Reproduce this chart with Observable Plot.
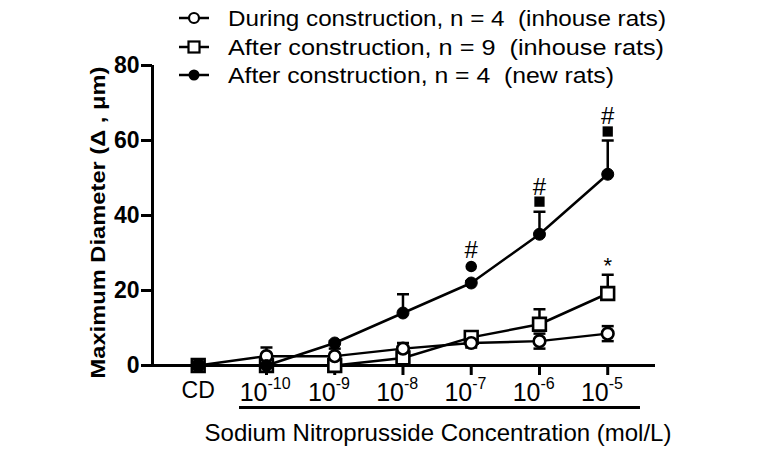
<!DOCTYPE html>
<html><head><meta charset="utf-8">
<script src="https://cdn.jsdelivr.net/npm/d3@7"></script>
<script src="https://cdn.jsdelivr.net/npm/@observablehq/plot@0.6"></script>
<style>
body{margin:0;background:#fff;font-family:"Liberation Sans",Arial,sans-serif;}
#wrap{position:relative;width:763px;height:454px;}
#legend{position:absolute;left:0;top:0;}
</style></head>
<body><div id="wrap"><div id="legend"></div><div id="chart"></div></div>
<script>
// categories (positions 0..6)
const categories = ["CD", "-10", "-9", "-8", "-7", "-6", "-5"];
const tickBase = ["CD", "10", "10", "10", "10", "10", "10"];
const tickExp = ["", "-10", "-9", "-8", "-7", "-6", "-5"];

const seriesNames = [
  "During construction, n = 4  (inhouse rats)",
  "After construction, n = 9  (inhouse rats)",
  "After construction, n = 4  (new rats)"
];
const duringMean = [0, 2.5, 2.5, 4.5, 6, 6.5, 8.5];
const duringErr  = [0, 2.3, 2, 1.5, 1.2, 2, 2];
const afterMean  = [0, 0, 0, 2, 7.5, 11, 19.2];
const afterErr   = [0, 0.5, 1, 2, 1.5, 4, 5];
const newMean    = [0, 0, 6, 14, 22, 35, 51];
const newErr     = [0, 0, 0.5, 5, 0.5, 6, 9];

// significance annotations
const annotIdx = [4, 5, 6];
const hashY = [30.6, 47.6, 66.5];
const sigY = [26.4, 43.7, 62.4];
const sigSymbol = ["circle", "square", "square"];
const starIdx = [6];
const starY = [26.6];

const yTicks = [0, 20, 40, 60, 80];
const yLabel = "Maximum Diameter (\u0394 , \u03bcm)";
const xLabel = "Sodium Nitroprusside Concentration (mol/L)";

const xDom = [-0.67, 6.7];
const mk = (means, errs, up, s) => means.map((m, i) => ({x: i, y: m, lo: up ? m : m - errs[i], hi: m + errs[i], s}));
const d1 = mk(duringMean, duringErr, false, 0);
const d2 = mk(afterMean, afterErr, true, 1);
const d3d = mk(newMean, newErr, true, 2);
const ticks = categories.map((c, i) => ({x: i, base: tickBase[i], exp: tickExp[i]}));
const annots = annotIdx.map((x, i) => ({x, hy: hashY[i], sy: sigY[i], sym: sigSymbol[i]}));
const stars = starIdx.map((x, i) => ({x, y: starY[i]}));

const font = '"Liberation Sans", Arial, sans-serif';

function caps(d, key) {
  return Plot.dot(d.filter(e => e.hi > e.lo && (key === "hi" || e.lo < e.y)), {x: "x", y: key, symbol: {draw(ctx, size) { ctx.moveTo(-6, 0); ctx.lineTo(6, 0); }}, r: 5, stroke: "black", strokeWidth: 2.5});
}
function bars(d) {
  return Plot.ruleX(d.filter(e => e.hi > e.lo), {x: "x", y1: "lo", y2: "hi", stroke: "black", strokeWidth: 2.5});
}

const chart = Plot.plot({
  width: 763, height: 454,
  marginTop: 65, marginBottom: 89, marginLeft: 152, marginRight: 108,
  style: {fontFamily: font, background: "transparent"},
  x: {domain: xDom, axis: null},
  y: {domain: [0, 80], axis: null},
  marks: [
    Plot.axisY({ticks: yTicks, tickSize: 11, tickPadding: 2, strokeWidth: 3, fontSize: 23, fontWeight: "bold", label: null, fill: "black"}),
    Plot.axisX({ticks: [1, 2, 3, 4, 5, 6], tickSize: 10, strokeWidth: 3, tickFormat: () => "", label: null}),
    Plot.ruleX([xDom[0]], {y1: 0, y2: 80, strokeWidth: 3}),
    Plot.ruleY([0], {strokeWidth: 3}),
    Plot.ruleY([0], {x1: 0.605, x2: 6.48, dy: 42, strokeWidth: 3}),
    // tick labels
    Plot.text(ticks.filter(t => !t.exp), {x: "x", frameAnchor: "bottom", lineAnchor: "middle", text: "base", textAnchor: "middle", dy: 25, fontSize: 23, fill: "black"}),
    Plot.text(ticks.filter(t => t.exp), {x: "x", frameAnchor: "bottom", lineAnchor: "middle", text: "base", textAnchor: "end", dx: 1, dy: 27, fontSize: 25, fill: "black"}),
    Plot.text(ticks.filter(t => t.exp), {x: "x", frameAnchor: "bottom", lineAnchor: "middle", text: "exp", textAnchor: "start", dx: 1, dy: 18, fontSize: 16, fill: "black"}),
    Plot.text([xLabel], {frameAnchor: "bottom", lineAnchor: "middle", text: d => d, dy: 68, dx: 34, fontSize: 24, fill: "black"}),
    Plot.text([yLabel], {frameAnchor: "left", lineAnchor: "middle", textAnchor: "middle", text: d => d, rotate: -90, dx: -54, dy: 7, fontSize: 20, fontWeight: "bold", fill: "black", className: "ylab"}),
    // lines
    Plot.line(d1, {x: "x", y: "y", strokeWidth: 2.5, stroke: "black"}),
    Plot.line(d2, {x: "x", y: "y", strokeWidth: 2.5, stroke: "black"}),
    Plot.line(d3d, {x: "x", y: "y", strokeWidth: 2.5, stroke: "black"}),
    // error bars
    bars(d1), caps(d1, "hi"), caps(d1, "lo"),
    bars(d2), caps(d2, "hi"),
    bars(d3d), caps(d3d, "hi"),
    // markers
    Plot.dot(d2, {x: "x", y: "y", symbol: "square", r: 7.2, fill: "white", stroke: "black", strokeWidth: 2.6}),
    Plot.dot(d1, {x: "x", y: "y", symbol: "circle", r: 5.8, fill: "white", stroke: "black", strokeWidth: 2.6}),
    Plot.dot(d3d, {x: "x", y: "y", symbol: "circle", r: 6, fill: "black", stroke: "black", strokeWidth: 1}),
    // annotations
    Plot.text(annots, {x: "x", y: "hy", text: () => "#", fontSize: 24, fill: "black"}),
    Plot.dot(annots, {x: "x", y: "sy", symbol: "sym", r: 5.8, fill: "black", stroke: "none"}),
    Plot.text(stars, {x: "x", y: "y", text: () => "*", fontSize: 22, fill: "black"})
  ]
});
d3.select(chart).selectAll("g.ylab text").attr("textLength", 312).attr("lengthAdjust", "spacingAndGlyphs");
document.getElementById("chart").appendChild(chart);

// legend
const leg = d3.select("#legend").append("svg").attr("width", 763).attr("height", 100).style("font-family", font);
const legY = [18, 47, 75];
const legLen = [438, 436, 386];
seriesNames.forEach((name, i) => {
  const g = leg.append("g").attr("transform", `translate(0,${legY[i]})`);
  g.append("line").attr("x1", 179).attr("x2", 209).attr("stroke", "black").attr("stroke-width", 2.5);
  if (i === 0) g.append("circle").attr("cx", 194).attr("r", 5).attr("fill", "white").attr("stroke", "black").attr("stroke-width", 2.2);
  if (i === 1) g.append("rect").attr("x", 188.5).attr("y", -5.5).attr("width", 11).attr("height", 11).attr("fill", "white").attr("stroke", "black").attr("stroke-width", 2.2);
  if (i === 2) g.append("circle").attr("cx", 194).attr("r", 5.5).attr("fill", "black");
  g.append("text").attr("x", 228).attr("dy", "0.36em").attr("font-size", 22)
    .attr("textLength", legLen[i]).attr("lengthAdjust", "spacingAndGlyphs")
    .style("white-space", "pre").text(name);
});
</script></body></html>
